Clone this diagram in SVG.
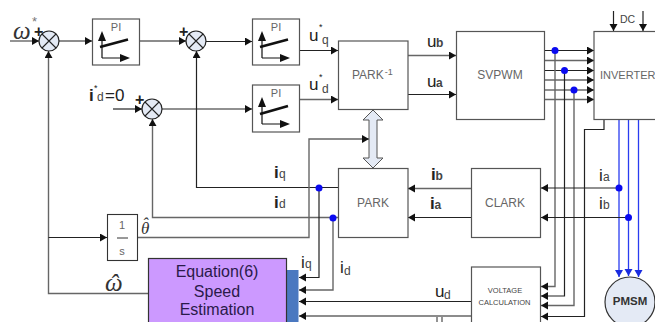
<svg xmlns="http://www.w3.org/2000/svg" width="655" height="322" viewBox="0 0 655 322">
<style>
text{font-family:"Liberation Sans",Arial,sans-serif;fill:#555}
.b{fill:#fff;stroke:#555;stroke-width:1.2}
.s{fill:#e4eaf5;stroke:#222;stroke-width:1.2}
.x{stroke:#222;stroke-width:1.1;fill:none}
.c{fill:none;stroke:#222;stroke-width:1.2}
.g{fill:none;stroke:#666;stroke-width:1.4}
.u{fill:none;stroke:#2a3cf0;stroke-width:1.3}
.d{fill:#0a0af0}
.m{font-size:11px;text-anchor:middle;fill:#666}
.lab{font-size:17px;fill:#222}
.sub{font-size:12px;fill:#444}
.bold{font-weight:bold}
.gr{font-family:"Liberation Serif",serif;font-style:italic;fill:#333}
.ax{stroke:#111;stroke-width:1.2;fill:none}
.sl{stroke:#111;stroke-width:2.6;fill:none}
.pl{font-size:16px;font-weight:bold;fill:#222}
</style>
<defs>
<marker id="a" markerUnits="userSpaceOnUse" markerWidth="9" markerHeight="9" refX="7" refY="4" orient="auto"><path d="M0 0L7 4L0 8z" fill="#111"/></marker>
<marker id="ab" markerUnits="userSpaceOnUse" markerWidth="9" markerHeight="9" refX="7" refY="4" orient="auto"><path d="M0 0L7 4L0 8z" fill="#1a2ce0"/></marker>
</defs>
<g id="connectors">
<path class="g" d="M10 41H39" marker-end="url(#a)"/>
<path class="g" d="M59 41H92" marker-end="url(#a)"/>
<path class="g" d="M140 41H186" marker-end="url(#a)"/>
<path class="c" d="M206 41.500H252" marker-end="url(#a)"/>
<path class="c" d="M113 109H142" marker-end="url(#a)"/>
<path class="c" d="M162 109H252" marker-end="url(#a)"/>
<path class="c" d="M300 50.500H338" marker-end="url(#a)"/>
<path class="g" d="M300 99.500H338" marker-end="url(#a)"/>
<path class="g" d="M408 55.500H456" marker-end="url(#a)"/>
<path class="c" d="M408 94.500H456" marker-end="url(#a)"/>
<path class="c" d="M545 50.500H594" marker-end="url(#a)"/>
<path class="g" d="M545 60.500H594" marker-end="url(#a)"/>
<path class="c" d="M545 70.500H594" marker-end="url(#a)"/>
<path class="g" d="M545 80H594" marker-end="url(#a)"/>
<path class="c" d="M545 90H594" marker-end="url(#a)"/>
<path class="g" d="M545 99.500H594" marker-end="url(#a)"/>
<path class="c" d="M613.500 11V31" marker-end="url(#a)"/>
<path class="c" d="M643 11V31" marker-end="url(#a)"/>
<path class="g" d="M555 50.500V286.500H541" marker-end="url(#a)"/>
<path class="c" d="M564.500 70.500V296H541" marker-end="url(#a)"/>
<path class="g" d="M574 90V305.500H541" marker-end="url(#a)"/>
<path class="c" d="M604 119V129.500H584.500V316.500H541" marker-end="url(#a)"/>
<path class="u" d="M619 119V277" marker-end="url(#ab)"/>
<path class="u" d="M628.500 119V276" marker-end="url(#ab)"/>
<path class="u" d="M638.500 119V277" marker-end="url(#ab)"/>
<path class="c" d="M619 188H541" marker-end="url(#a)"/>
<path class="c" d="M628.500 217.500H541" marker-end="url(#a)"/>
<path class="g" d="M471 188.500H408" marker-end="url(#a)"/>
<path class="c" d="M471 217.500H408" marker-end="url(#a)"/>
<path class="c" d="M338 187.500H196.500V51" marker-end="url(#a)"/>
<path class="g" d="M338 217.500H152.500V119" marker-end="url(#a)"/>
<path class="g" d="M137 237.500H309V139H369" marker-end="url(#a)"/>
<path class="c" d="M319 188V277.500H299" marker-end="url(#a)"/>
<path class="g" d="M333 217.500V290H299" marker-end="url(#a)"/>
<path class="c" d="M471 301.500H299" marker-end="url(#a)"/>
<path class="g" d="M471 316H299" marker-end="url(#a)"/>
<path class="g" d="M148 293.500H48.500V51" marker-end="url(#a)"/>
<path class="c" d="M48.500 237.500H107" marker-end="url(#a)"/>
<path class="g" d="M437 322V317M442 322V317"/>
<path d="M373 110L383 120H377V158H383L373 168L363 158H369V120H363z" fill="#e4eaf5" stroke="#555" stroke-width="1"/>
<circle class="d" cx="555" cy="50.500" r="3.500"/>
<circle class="d" cx="564.500" cy="70.500" r="3.500"/>
<circle class="d" cx="574" cy="90" r="3.500"/>
<circle class="d" cx="619" cy="188" r="3.500"/>
<circle class="d" cx="628.500" cy="217.500" r="3.500"/>
<circle class="d" cx="319" cy="188" r="3.500"/>
<circle class="d" cx="333" cy="218" r="3.500"/>
</g>
<g id="sum1"><circle class="s" cx="49" cy="41" r="10"/><path class="x" d="M42 34L56 48M56 34L42 48"/></g>
<g id="sum2"><circle class="s" cx="196" cy="41" r="10"/><path class="x" d="M189 34L203 48M203 34L189 48"/></g>
<g id="sum3"><circle class="s" cx="152" cy="109" r="10"/><path class="x" d="M145 102L159 116M159 102L145 116"/></g>
<g id="pi1"><rect class="b" x="92.500" y="19" width="47" height="46"/><text class="m" x="116" y="31">PI</text><path class="ax" d="M102 58V36M102 58H125" /><path d="M102 31L98 41H106zM130 58L120 54V62z" fill="#111"/><path class="sl" d="M100 47L128 39.500"/></g>
<g id="pi2"><rect class="b" x="252.500" y="19" width="47" height="46"/><text class="m" x="276" y="31">PI</text><path class="ax" d="M262 58V36M262 58H285"/><path d="M262 31L258 41H266zM290 58L280 54V62z" fill="#111"/><path class="sl" d="M260 47L288 39.500"/></g>
<g id="pi3"><rect class="b" x="252.500" y="85" width="47" height="47"/><text class="m" x="276" y="97">PI</text><path class="ax" d="M262 124V102M262 124H285"/><path d="M262 97L258 107H266zM290 124L280 120V128z" fill="#111"/><path class="sl" d="M260 114L288 106"/></g>
<g id="park-inv"><rect class="b" x="338.500" y="41" width="69.500" height="68.500"/><text x="352" y="79" style="font-size:12px;fill:#666">PARK<tspan dy="-4" dx="1" style="font-size:9px">-1</tspan></text></g>
<g id="svpwm"><rect class="b" x="456.500" y="31.500" width="88" height="88"/><text class="m" x="500" y="79" style="font-size:12px">SVPWM</text></g>
<g id="inverter"><rect class="b" x="594" y="31.500" width="70" height="88"/><text x="600" y="79" style="font-size:11px;fill:#666">INVERTER</text></g>
<g id="park"><rect class="b" x="338.500" y="168.500" width="69.500" height="69"/><text class="m" x="373" y="207" style="font-size:12px">PARK</text></g>
<g id="clark"><rect class="b" x="471.500" y="168.500" width="69" height="69"/><text class="m" x="505" y="207" style="font-size:12px">CLARK</text></g>
<g id="voltage"><rect class="b" x="471.500" y="267" width="69" height="64"/><text class="m" x="505" y="293" style="font-size:7.500px;fill:#444">VOLTAGE</text><text class="m" x="504.500" y="305" style="font-size:7.500px;fill:#444">CALCULATION</text></g>
<g id="pmsm"><circle cx="630" cy="302" r="25" fill="#e4eaf5" stroke="#333" stroke-width="1.2"/><text x="630" y="305" text-anchor="middle" style="font-size:11.500px;font-weight:bold;fill:#333">PMSM</text></g>
<g id="integrator"><rect x="107.500" y="214.500" width="30" height="46" fill="#fff" stroke="#333" stroke-width="1.100"/><text class="m" x="122" y="229" style="font-size:11px">1</text><path d="M117 238H128" stroke="#333" stroke-width="1"/><text class="m" x="122" y="255" style="font-size:11px">s</text></g>
<g id="speed"><rect x="286" y="270" width="12.500" height="60" fill="#4a78c0"/><rect x="148.500" y="258.500" width="138" height="70" fill="#cc99ff" stroke="#333" stroke-width="1.200"/><text x="217" y="277" text-anchor="middle" style="font-size:16px;fill:#2a1a4a">Equation(6)</text><text x="217" y="296.500" text-anchor="middle" style="font-size:16px;fill:#2a1a4a">Speed</text><text x="217" y="315" text-anchor="middle" style="font-size:16px;fill:#2a1a4a">Estimation</text></g>
<g id="labels">
<text class="gr" x="13" y="39" style="font-size:25px">ω</text><text x="32" y="26" style="font-size:13px;fill:#777">*</text>
<text class="pl" x="34" y="37">+</text>
<text class="pl" x="179" y="37">+</text>
<text class="pl" x="135" y="105">+</text>
<text class="lab bold" x="89" y="101">i</text><text x="94" y="91" style="font-size:9px;fill:#222">*</text><text class="sub" x="97" y="101">d</text><text class="lab" x="105" y="101">=0</text>
<text class="lab" x="309" y="41">u</text><text x="319" y="30" style="font-size:9px;fill:#222">*</text><text class="sub" x="322" y="44">q</text>
<text class="lab" x="309" y="90">u</text><text x="319" y="80" style="font-size:9px;fill:#222">*</text><text class="sub" x="322" y="93">d</text>
<text class="lab" x="427" y="47">u</text><text x="436" y="47" class="sub bold">b</text>
<text class="lab" x="427" y="87">u</text><text x="436" y="87" class="sub bold">a</text>
<text x="620" y="23" style="font-size:10.500px;fill:#444">DC</text>
<text class="lab bold" x="274" y="178">i</text><text class="sub" x="279" y="178">q</text>
<text class="lab bold" x="274" y="208">i</text><text class="sub" x="279" y="208">d</text>
<text class="lab bold" x="431" y="180">i</text><text class="sub bold" x="435.500" y="180">b</text>
<text class="lab bold" x="430" y="209">i</text><text class="sub bold" x="434.500" y="209">a</text>
<text class="lab" x="599" y="181">i</text><text class="sub" x="603" y="181">a</text>
<text class="lab" x="599" y="209">i</text><text class="sub" x="603" y="209">b</text>
<text class="lab" x="301" y="268">i</text><text class="sub" x="305" y="268">q</text>
<text class="lab" x="340" y="273">i</text><text class="sub" x="344" y="275">d</text>
<text class="lab" x="435" y="297">u</text><text class="sub" x="444" y="299">d</text>
<text class="gr" x="141" y="234" style="font-size:17px">θ<tspan dx="-7" dy="-5">ˆ</tspan></text>
<text class="gr" x="105" y="291" style="font-size:25px">ω<tspan dx="-13" dy="1">ˆ</tspan></text>
</g>
</svg>
